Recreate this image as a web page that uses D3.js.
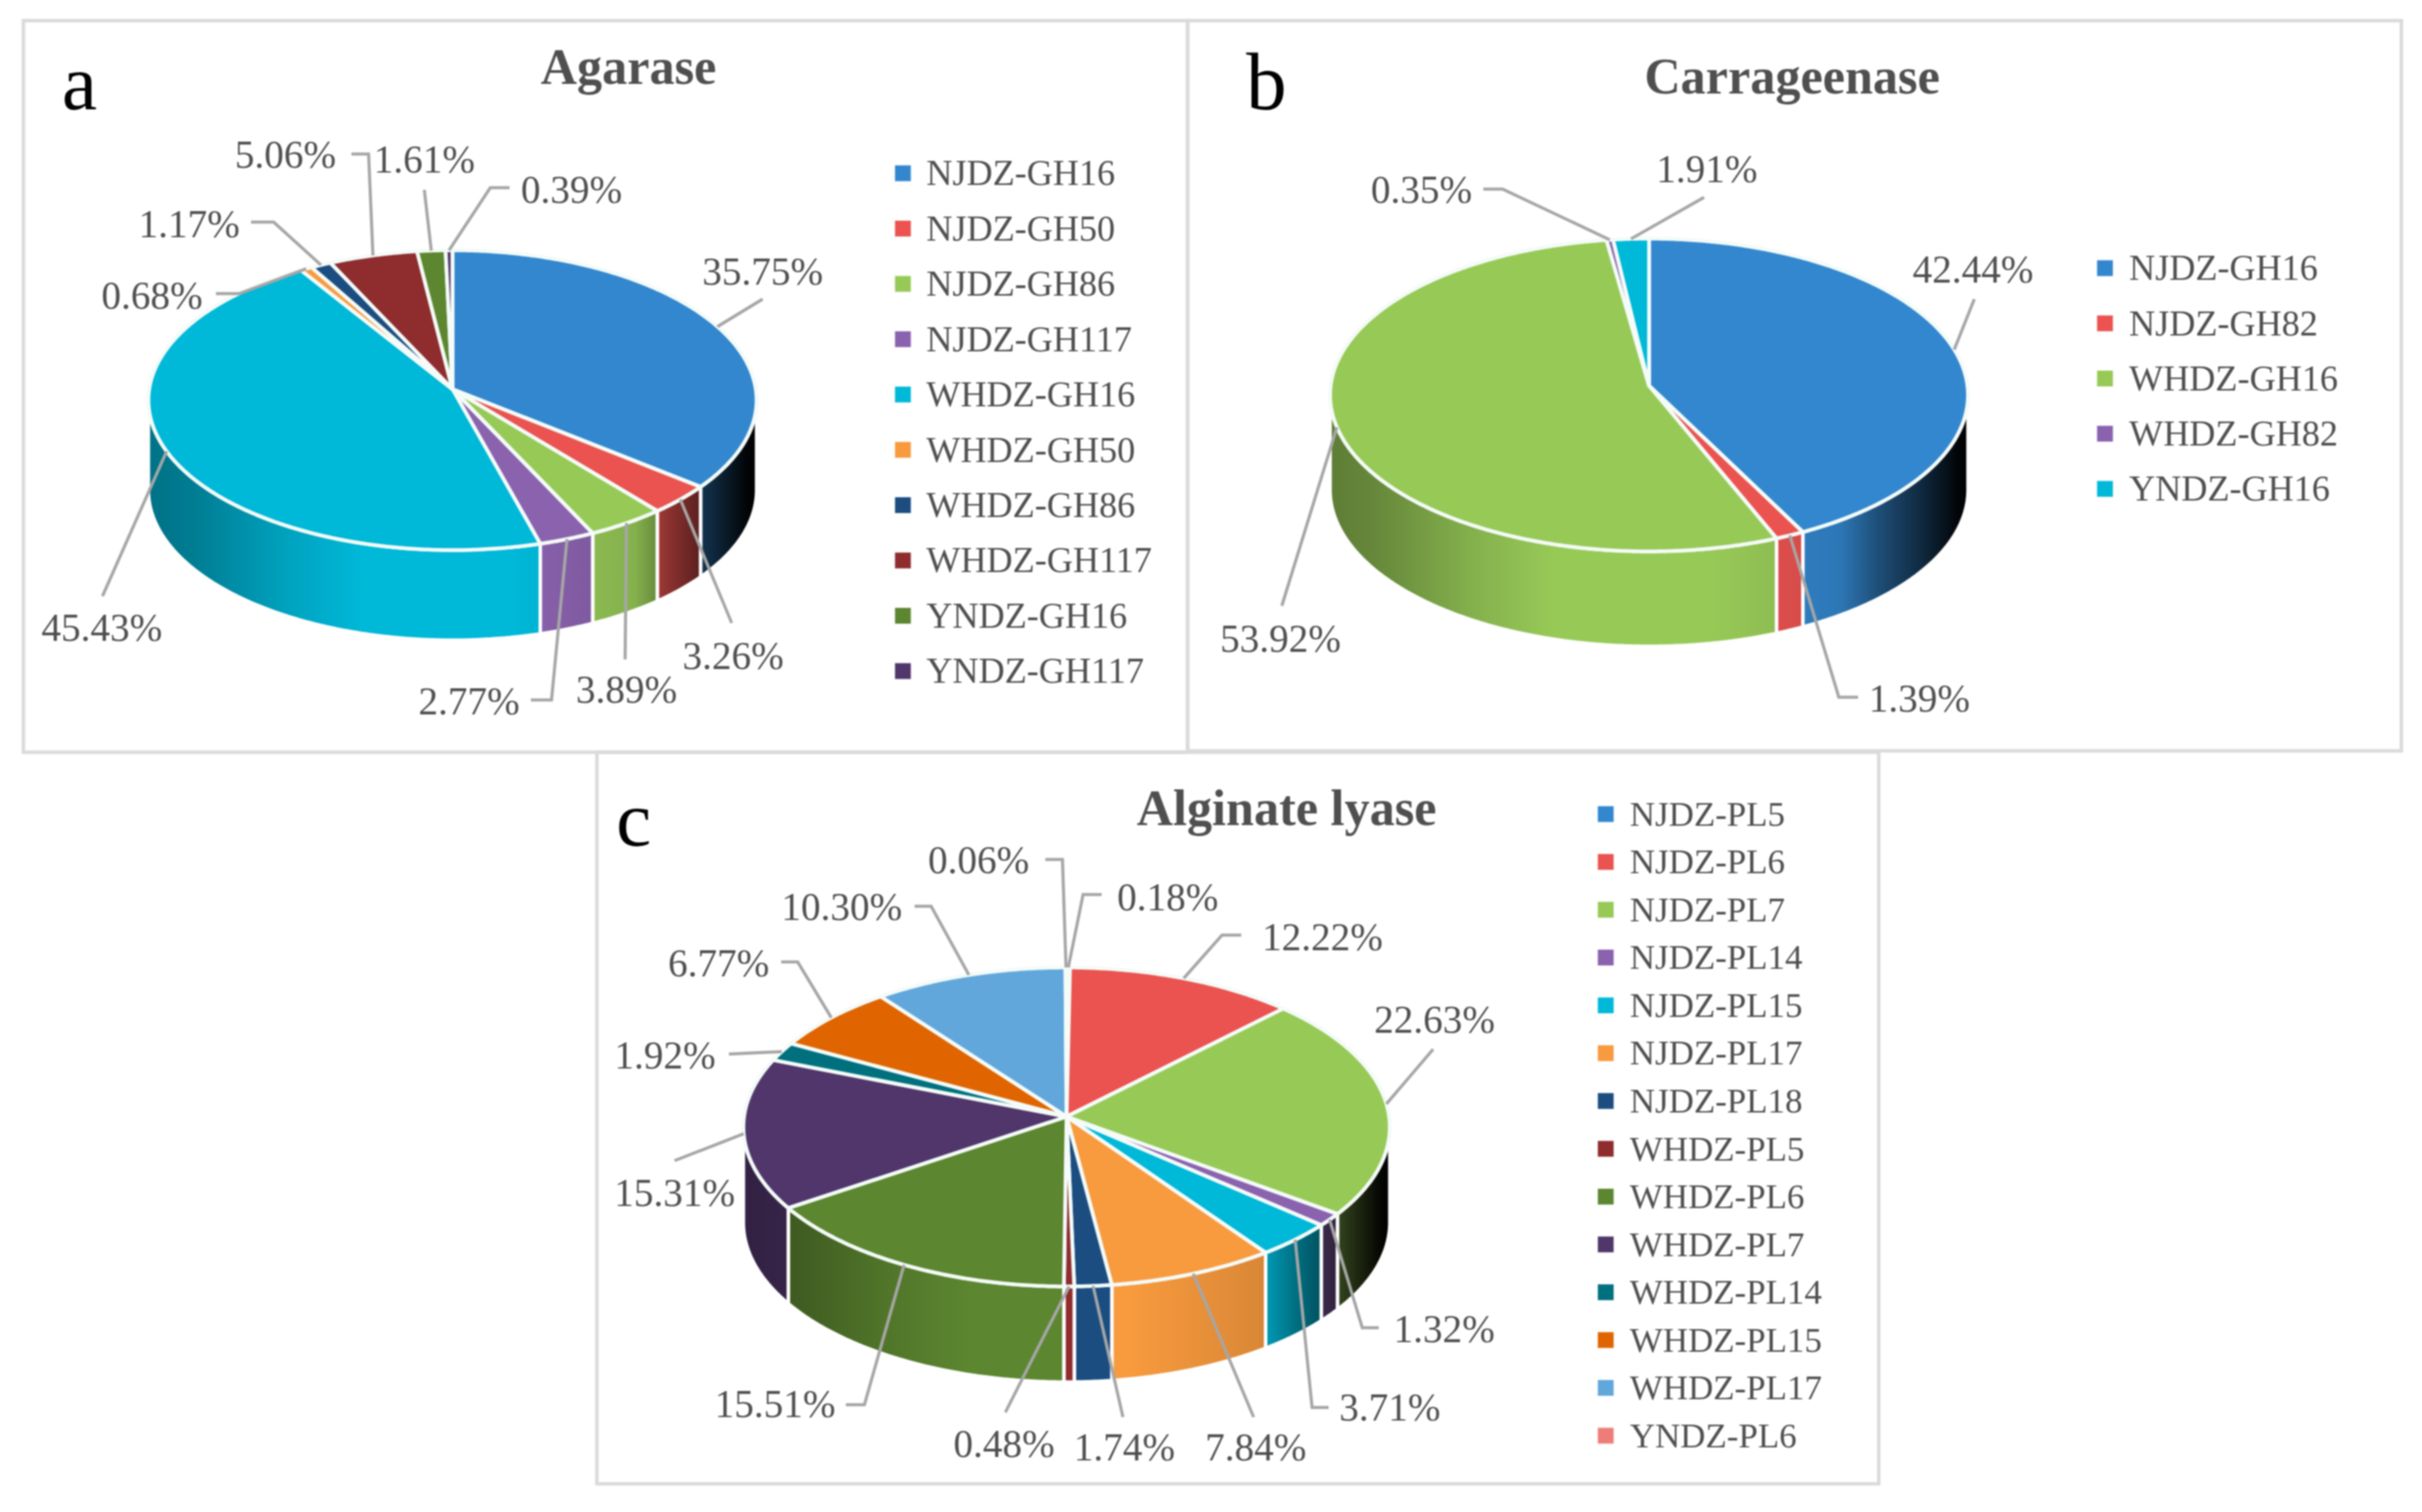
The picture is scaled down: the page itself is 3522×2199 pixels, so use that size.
<!DOCTYPE html>
<html><head><meta charset="utf-8">
<script src="https://cdn.jsdelivr.net/npm/d3@7/dist/d3.min.js"></script>
<style>html,body{margin:0;padding:0;background:#fff}svg{display:block;filter:blur(0.9px)}text{font-family:"Liberation Serif",serif}</style>
</head><body>
<script>
// ---- data ----
const agaraseCategories=["NJDZ-GH16","NJDZ-GH50","NJDZ-GH86","NJDZ-GH117","WHDZ-GH16","WHDZ-GH50","WHDZ-GH86","WHDZ-GH117","YNDZ-GH16","YNDZ-GH117"];
const agaraseValues=[35.75,3.26,3.89,2.77,45.43,0.68,1.17,5.06,1.61,0.39];
const carrageenaseCategories=["NJDZ-GH16","NJDZ-GH82","WHDZ-GH16","WHDZ-GH82","YNDZ-GH16"];
const carrageenaseValues=[42.44,1.39,53.92,0.35,1.91];
const alginateCategories=["NJDZ-PL5","NJDZ-PL6","NJDZ-PL7","NJDZ-PL14","NJDZ-PL15","NJDZ-PL17","NJDZ-PL18","WHDZ-PL5","WHDZ-PL6","WHDZ-PL7","WHDZ-PL14","WHDZ-PL15","WHDZ-PL17","YNDZ-PL6"];
const alginateValues=[0.18,12.22,22.63,1.32,3.71,7.84,1.74,0.48,15.51,15.31,1.92,6.77,10.30,0.06];
// ---- palettes ----
const palette10=["#3387cf","#ea5350","#97c957","#8a62ae","#00b8d8","#f89a3e","#1b4d80","#8e2c2e","#5c8630","#50366b"];
const palette14=["#3387cf","#ea5350","#97c957","#8a62ae","#00b8d8","#f89a3e","#1b4d80","#8e2c2e","#5c8630","#50366b","#00707f","#e06500","#62a7dc","#ee7d7a"];
const paletteB=["#3387cf","#ea5350","#97c957","#8a62ae","#00b8d8"];
// wall shading: position across the pie width -> brightness
const shadeX=[-1,-0.85,-0.55,-0.3,0.2,0.6,0.72,0.85,0.97,1];
const shadeL=[0.62,0.68,0.88,1,1,0.88,0.58,0.32,0.04,0];
// ---- layout ----
const agaraseLayout=[[1109,395,[[1109,435]]],[1066,954,[[1064,906]]],[911,1003,[[909,959]]],[682,1020,[[802,1018],[772,1018]]],[148,913,[[149,867]]],[221,430,[[348,427],[314,427]]],[275,326,[[398,323],[365,323]]],[415,225,[[536,224],[511,224]]],[617,232,[[617,276]]],[831,276,[[713,273],[741,273]]]];
const carrageenaseLayout=[[2869,392,[[2871,435]]],[2791,1016,[[2674,1014],[2702,1014]]],[1862,929,[[1864,881]]],[2067,276,[[2185,275],[2157,275]]],[2482,246,[[2478,287]]]];
const alginateLayout=[[1698,1305,[[1575,1301],[1602,1301]]],[1923,1363,[[1777,1360],[1805,1360]]],[2086,1483,[[2084,1526]]],[2100,1933,[[1981,1931],[2005,1931]]],[2021,2047,[[1908,2047],[1932,2047]]],[1826,2105,[[1823,2061]]],[1635,2105,[[1633,2061]]],[1460,2100,[[1462,2054]]],[1127,2042,[[1257,2043],[1230,2043]]],[981,1735,[[981,1688]]],[967,1535,[[1102,1531],[1060,1533]]],[1045,1401,[[1160,1399],[1136,1399]]],[1224,1319,[[1354,1318],[1330,1318]]],[1423,1251,[[1545,1250],[1520,1250]]]];

const panels=[
 {letter:"a",lx:90,ly:159,lsize:115,title:"Agarase",tx:914,ty:122,frame:[34,30,1727,1094],
  cats:agaraseCategories,vals:agaraseValues,colors:palette10,layout:agaraseLayout,
  cx:658,ay:566,R:441,H:216.9,k:0.0733,wall:131,
  legend:{mx:1313,tx:1347,y0:252,y1:976,size:52.6,mark:23}},
 {letter:"b",lx:1812,ly:159,lsize:118,title:"Carrageenase",tx:2606,ty:136,frame:[1727,30,3492,1092],
  cats:carrageenaseCategories,vals:carrageenaseValues,colors:paletteB,layout:carrageenaseLayout,
  cx:2398,ay:561,R:463,H:226.7,k:0.0593,wall:138,
  legend:{mx:3061,tx:3096,y0:390,y1:711,size:52.6,mark:23}},
 {letter:"c",lx:896,ly:1230,lsize:115,title:"Alginate lyase",tx:1871,ty:1200,frame:[868,1094,2732,2158],
  cats:alginateCategories,vals:alginateValues,colors:palette14,layout:alginateLayout,
  cx:1551,ay:1624,R:469,H:231,k:0.0647,wall:139,
  legend:{mx:2335,tx:2370,y0:1184,y1:2088,size:50.8,mark:23}}
];

const W=3522,H=2199;
const svg=d3.select("body").append("svg").attr("width",W).attr("height",H).attr("viewBox",[0,0,W,H]);
svg.append("rect").attr("width",W).attr("height",H).attr("fill","#fff");
const defs=svg.append("defs");
const TEXT="#4f4f4f";
const line=d3.line();
const darken=(c,l)=>{const r=d3.rgb(c);return d3.rgb(r.r*l,r.g*l,r.b*l).formatHex();};
const fmt=d3.format(".2f");

panels.forEach((p,pi)=>{
  const g=svg.append("g");
  const [fx0,fy0,fx1,fy1]=p.frame;
  g.append("rect").attr("x",fx0).attr("y",fy0).attr("width",fx1-fx0).attr("height",fy1-fy0)
    .attr("fill","none").attr("stroke","#dadada").attr("stroke-width",5);

  const xs=d3.scaleLinear([-1,1],[p.cx-p.R,p.cx+p.R]);
  const ys=d3.scaleLinear([0,1],[p.ay,p.ay+p.H]);
  // perspective projection of the unit disc (angle clockwise from 12 o'clock)
  const proj=t=>{const u=Math.sin(t),v=-Math.cos(t),s=1/(1-p.k*v);return [xs(u*s),ys(v*s)];};
  const arcPts=(a,b)=>{const n=Math.max(2,Math.ceil((b-a)/(Math.PI/360)));return d3.range(n+1).map(i=>proj(a+(b-a)*i/n));};

  const arcs=d3.pie().sort(null).value(d=>d)(p.vals);
  const tR=Math.acos(-p.k),tL=2*Math.PI-tR;

  // walls
  arcs.forEach((a,i)=>{
    const s=Math.max(a.startAngle,tR),e=Math.min(a.endAngle,tL);
    if(e<=s) return;
    const id=`wall-${pi}-${i}`;
    const gr=defs.append("linearGradient").attr("id",id).attr("gradientUnits","userSpaceOnUse")
      .attr("x1",xs(-1)).attr("x2",xs(1)).attr("y1",0).attr("y2",0);
    shadeX.forEach((x,j)=>gr.append("stop").attr("offset",(x+1)/2).attr("stop-color",darken(p.colors[i],shadeL[j])));
    const top=arcPts(s,e);
    const bot=top.map(([x,y])=>[x,y+p.wall]).reverse();
    g.append("path").attr("d",line(top.concat(bot))+"Z").attr("fill",`url(#${id})`)
      .attr("stroke","#fff").attr("stroke-width",5).attr("stroke-linejoin","round");
  });
  // top face
  arcs.forEach((a,i)=>{
    g.append("path").attr("d",line([[xs(0),ys(0)]].concat(arcPts(a.startAngle,a.endAngle)))+"Z")
      .attr("fill",p.colors[i]).attr("stroke","#f4fbf8").attr("stroke-width",5.5).attr("stroke-linejoin","round");
  });
  // leader lines and labels
  arcs.forEach((a,i)=>{
    const [lx,ly,pts]=p.layout[i];
    const mid=(a.startAngle+a.endAngle)/2;
    g.append("path").attr("d",line([proj(mid)].concat(pts))).attr("fill","none")
      .attr("stroke","#a6a6a6").attr("stroke-width",4.5);
    g.append("text").attr("x",lx).attr("y",ly).attr("dy","0.33em").attr("text-anchor","middle")
      .attr("font-size",57).attr("fill",TEXT).text(fmt(a.data)+"%");
  });
  // legend
  const ly=d3.scaleLinear([0,p.cats.length-1],[p.legend.y0,p.legend.y1]);
  p.cats.forEach((c,i)=>{
    g.append("rect").attr("x",p.legend.mx-p.legend.mark/2).attr("y",ly(i)-p.legend.mark/2)
      .attr("width",p.legend.mark).attr("height",p.legend.mark).attr("fill",p.colors[i]);
    g.append("text").attr("x",p.legend.tx).attr("y",ly(i)).attr("dy","0.33em")
      .attr("font-size",p.legend.size).attr("fill",TEXT).text(c);
  });
  // title & panel letter
  g.append("text").attr("x",p.tx).attr("y",p.ty).attr("text-anchor","middle").attr("font-weight","bold")
    .attr("font-size",73).attr("fill",TEXT).text(p.title);
  g.append("text").attr("x",p.lx).attr("y",p.ly).attr("font-size",p.lsize).attr("fill","#000").text(p.letter);
});
</script>
</body></html>
